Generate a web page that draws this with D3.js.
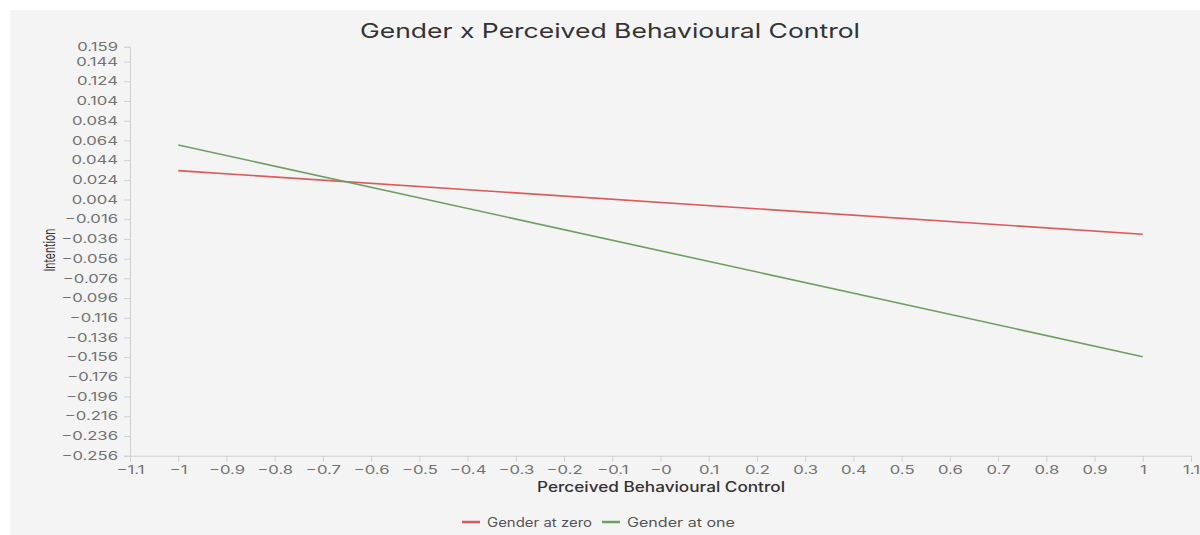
<!DOCTYPE html>
<html><head><meta charset="utf-8">
<script src="https://cdn.jsdelivr.net/npm/d3@7"></script>
<style>
html,body{margin:0;padding:0;background:#fff;}
svg{display:block;font-family:Inter,"Liberation Sans",Arial,sans-serif;}
</style></head>
<body><svg id="chart" width="1200" height="535"></svg>
<script>
const title = "Gender x Perceived Behavioural Control";
const xLabel = "Perceived Behavioural Control";
const yLabel = "Intention";
const xValues = [-1, 1];
const seriesNames = ["Gender at zero", "Gender at one"];
const seriesColors = ["#dc5a5a", "#6f9e63"];
const genderZero = [0.0333, -0.0312];
const genderOne = [0.0594, -0.1555];
const xDomain = [-1.1, 1.1];
const yDomain = [-0.256, 0.159];
const xTicks = [-1.1,-1,-0.9,-0.8,-0.7,-0.6,-0.5,-0.4,-0.3,-0.2,-0.1,0,0.1,0.2,0.3,0.4,0.5,0.6,0.7,0.8,0.9,1,1.1];
const xTickLabels = ["-1.1","-1","-0.9","-0.8","-0.7","-0.6","-0.5","-0.4","-0.3","-0.2","-0.1","-0","0.1","0.2","0.3","0.4","0.5","0.6","0.7","0.8","0.9","1","1.1"];
const yTicks = [0.159,0.144,0.124,0.104,0.084,0.064,0.044,0.024,0.004,-0.016,-0.036,-0.056,-0.076,-0.096,-0.116,-0.136,-0.156,-0.176,-0.196,-0.216,-0.236,-0.256];

const svg = d3.select("#chart");
svg.append("rect").attr("x",10).attr("y",10).attr("width",1190).attr("height",525).attr("fill","#f4f4f4");

const x = d3.scaleLinear().domain(xDomain).range([130, 1191]);
const y = d3.scaleLinear().domain(yDomain).range([455.7, 46.8]);

function stretch(sel, factor){
  sel.each(function(){
    const w = this.getComputedTextLength();
    d3.select(this).attr("textLength", w*factor).attr("lengthAdjust","spacingAndGlyphs");
  });
}

const xAxis = d3.axisBottom(x).tickValues(xTicks).tickSize(6).tickPadding(4)
  .tickFormat((d,i)=>xTickLabels[i]);
const gx = svg.append("g").attr("transform","translate(0,455.7)").call(xAxis);
const yAxis = d3.axisLeft(y).tickValues(yTicks).tickSize(6).tickPadding(6)
  .tickFormat(d=>d3.format(".3f")(d));
const gy = svg.append("g").attr("transform","translate(130,0)").call(yAxis);
[gx,gy].forEach(g=>{
  g.attr("font-family",null).attr("font-size",null);
  g.select(".domain").attr("stroke","#d0d0d0");
  g.selectAll(".tick line").attr("stroke","#d0d0d0");
  g.selectAll(".tick text").attr("fill","#727272").attr("font-size",11.5);
});
gx.selectAll(".tick text").text((d,i)=>xTickLabels[i].replace("-","\u2212"));
gy.selectAll(".tick text").text(d=>d3.format(".3f")(d).replace("-","\u2212"));
stretch(gx.selectAll(".tick text"), 1.45);
stretch(gy.selectAll(".tick text"), 1.45);

svg.append("text").attr("x",610).attr("y",38).attr("text-anchor","middle")
  .attr("font-size",20).attr("font-weight",400).attr("fill","#333")
  .attr("textLength",500).attr("lengthAdjust","spacingAndGlyphs").text(title);
svg.append("text").attr("x",661).attr("y",492).attr("text-anchor","middle")
  .attr("font-size",14).attr("font-weight",500).attr("fill","#333")
  .attr("textLength",248).attr("lengthAdjust","spacingAndGlyphs").text(xLabel);
svg.append("text").attr("transform","translate(55,250) rotate(-90)").attr("text-anchor","middle")
  .attr("font-size",15).attr("fill","#333")
  .attr("textLength",43).attr("lengthAdjust","spacingAndGlyphs").text(yLabel);

const line = d3.line().x(d=>x(d[0])).y(d=>y(d[1]));
[genderZero, genderOne].forEach((vals,i)=>{
  svg.append("path").datum(xValues.map((xv,j)=>[xv, vals[j]]))
    .attr("d",line).attr("fill","none").attr("stroke",seriesColors[i]).attr("stroke-width",1.6);
});

// legend
const legendX = [462, 602];
const legendW = [105, 108];
seriesNames.forEach((n,i)=>{
  const g = svg.append("g").attr("transform",`translate(${legendX[i]},522)`);
  g.append("line").attr("x1",0).attr("x2",18).attr("y1",0).attr("y2",0)
    .attr("stroke",seriesColors[i]).attr("stroke-width",2.5);
  g.append("text").attr("x",25).attr("y",4.5).attr("font-size",12.5).attr("fill","#555")
    .attr("textLength",legendW[i]).attr("lengthAdjust","spacingAndGlyphs").text(n);
});
</script></body></html>
